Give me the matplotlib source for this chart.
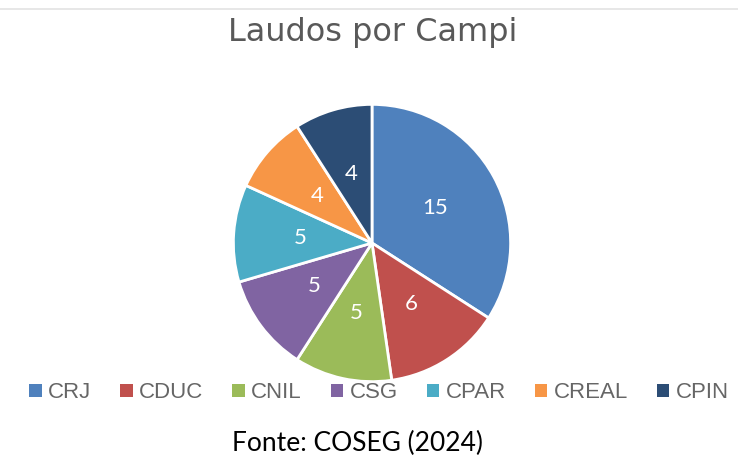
import matplotlib.pyplot as plt
from matplotlib.lines import Line2D
from matplotlib.patches import Patch

campi = ['CRJ', 'CDUC', 'CNIL', 'CSG', 'CPAR', 'CREAL', 'CPIN']
laudos = [15, 6, 5, 5, 5, 4, 4]
cores = ['#4F81BD', '#C0504D', '#9BBB59', '#8064A2', '#4BACC6', '#F79646', '#2C4D75']


def main():
    fig = plt.figure(figsize=(7.38, 4.58), dpi=100)

    # thin grey border line along the top
    fig.add_artist(Line2D([0, 1], [1 - 9 / 458, 1 - 9 / 458], color='#e3e3e3', lw=1.2,
                          transform=fig.transFigure))

    ax = fig.add_axes([232 / 738, 75 / 458, 280 / 738, 280 / 458])
    total = sum(laudos)
    wedges, _, autotexts = ax.pie(
        laudos, colors=cores, startangle=90, counterclock=False,
        autopct=lambda p: f'{round(p * total / 100)}', pctdistance=0.52,
        wedgeprops=dict(edgecolor='white', linewidth=2),
        textprops=dict(color='white', fontsize=16, family='Lato'))
    ax.set_xlim(-1.01, 1.01)
    ax.set_ylim(-1.01, 1.01)
    ax.set_aspect('equal')

    fig.text(373 / 738, 1 - 33 / 458, 'Laudos por Campi', ha='center', va='center',
             fontsize=23, color='#595959')

    handles = [Patch(facecolor=c, edgecolor='none') for c in cores]
    fig.legend(handles, campi, loc='center', bbox_to_anchor=(379 / 738, 1 - 393 / 458),
               ncol=7, frameon=False, prop=dict(family='Liberation Sans', size=16),
               handlelength=0.55, handleheight=0.55, handletextpad=0.3,
               columnspacing=1.3, labelcolor='#666666')

    fig.text(357 / 738, 1 - 443 / 458, 'Fonte: COSEG (2024)', ha='center', va='center',
             fontsize=19, family='Lato', color='black')

    fig.savefig('out.png', dpi=100)


if __name__ == '__main__':
    main()
